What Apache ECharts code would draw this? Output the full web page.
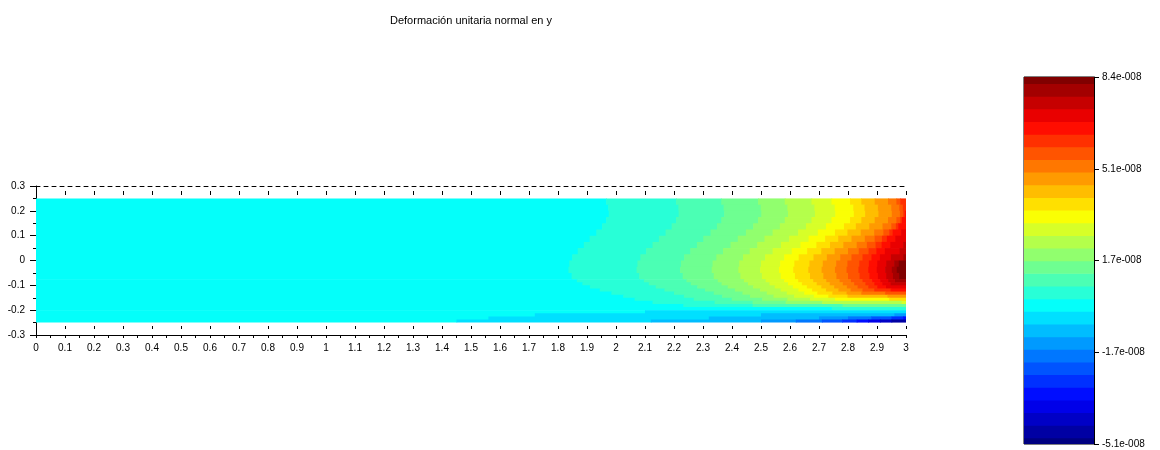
<!DOCTYPE html>
<html><head><meta charset="utf-8">
<script src="https://cdn.jsdelivr.net/npm/echarts@6/dist/echarts.min.js"></script>
<style>html,body{margin:0;padding:0;background:#fff}#c{width:1160px;height:450px}</style>
</head><body><div id="c"></div>
<script>
const titleText = 'Deformación unitaria normal en y';
const xMin = 0, xMax = 3, xStep = 0.1;
const yMin = -0.3, yMax = 0.3, yStep = 0.1;
// Scilab jetcolormap(30): contour band colours, lowest to highest
const levelColors = ['#000080','#0000A3','#0000C6','#0000E9','#000DFF','#0030FF','#0054FF','#0077FF','#009AFF','#00BDFF',
  '#00E0FF','#04FFFA','#28FFD7','#4BFFB4','#6EFF91','#91FF6E','#B4FF4B','#D7FF28','#FAFF04','#FFE000',
  '#FFBD00','#FF9A00','#FF7700','#FF5400','#FF3000','#FF0D00','#E90000','#C60000','#A30000','#800000'];
const colorbarTickLabels = ['-5.1e-008','-1.7e-008','1.7e-008','5.1e-008','8.4e-008'];
// row boundaries (y) of the sampled strain field
const yEdges = [0.25,0.225,0.2,0.175,0.15,0.125,0.1,0.075,0.05,0.025,0,-0.025,-0.05,-0.075,-0.0875,-0.1,-0.1125,-0.125,-0.1375,-0.15,-0.1625,-0.175,-0.1875,-0.2,-0.2125,-0.225,-0.2375,-0.25];
// each row: pairs (x where band starts, band level index)
const fieldRows = [
 [0,11, 1.966,12, 2.207,13, 2.363,14, 2.490,15, 2.582,16, 2.674,17, 2.743,18, 2.807,19, 2.846,20, 2.892,21, 2.938,22, 2.967,23, 2.980,24],
 [0,11, 1.973,12, 2.215,13, 2.371,14, 2.499,15, 2.591,16, 2.684,17, 2.754,18, 2.818,19, 2.857,20, 2.903,21, 2.949,22, 2.977,23, 2.989,24],
 [0,11, 1.975,12, 2.216,13, 2.373,14, 2.501,15, 2.593,16, 2.686,17, 2.756,18, 2.820,19, 2.859,20, 2.905,21, 2.951,22, 2.979,23, 2.990,24, 2.996,25],
 [0,11, 1.966,12, 2.207,13, 2.363,14, 2.490,15, 2.582,16, 2.674,17, 2.743,18, 2.807,19, 2.846,20, 2.892,21, 2.938,22, 2.967,23, 2.980,24, 2.986,25],
 [0,11, 1.952,12, 2.192,13, 2.348,14, 2.473,15, 2.565,16, 2.655,17, 2.724,18, 2.786,19, 2.827,20, 2.873,21, 2.919,22, 2.949,23, 2.965,24, 2.973,25],
 [0,11, 1.932,12, 2.171,13, 2.326,14, 2.448,15, 2.540,16, 2.628,17, 2.696,18, 2.755,19, 2.798,20, 2.844,21, 2.890,22, 2.922,23, 2.942,24, 2.954,25, 2.983,26],
 [0,11, 1.909,12, 2.148,13, 2.301,14, 2.420,15, 2.512,16, 2.597,17, 2.664,18, 2.721,19, 2.766,20, 2.812,21, 2.858,22, 2.892,23, 2.917,24, 2.934,25, 2.963,26],
 [0,11, 1.889,12, 2.126,13, 2.279,14, 2.395,15, 2.487,16, 2.569,17, 2.636,18, 2.691,19, 2.738,20, 2.784,21, 2.830,22, 2.865,23, 2.895,24, 2.916,25, 2.946,26, 2.990,27],
 [0,11, 1.868,12, 2.104,13, 2.256,14, 2.369,15, 2.461,16, 2.540,17, 2.606,18, 2.659,19, 2.708,20, 2.754,21, 2.800,22, 2.837,23, 2.871,24, 2.898,25, 2.927,26, 2.978,27],
 [0,11, 1.849,12, 2.084,13, 2.235,14, 2.346,15, 2.438,16, 2.514,17, 2.580,18, 2.630,19, 2.681,20, 2.727,21, 2.773,22, 2.812,23, 2.850,24, 2.881,25, 2.910,26, 2.948,27, 2.991,28],
 [0,11, 1.839,12, 2.074,13, 2.224,14, 2.333,15, 2.425,16, 2.500,17, 2.566,18, 2.615,19, 2.667,20, 2.713,21, 2.759,22, 2.798,23, 2.839,24, 2.872,25, 2.901,26, 2.932,27, 2.959,28, 2.975,29],
 [0,11, 1.836,12, 2.071,13, 2.221,14, 2.330,15, 2.422,16, 2.497,17, 2.562,18, 2.611,19, 2.663,20, 2.709,21, 2.755,22, 2.795,23, 2.836,24, 2.870,25, 2.899,26, 2.928,27, 2.951,28, 2.968,29],
 [0,11, 1.847,12, 2.080,13, 2.230,14, 2.337,15, 2.429,16, 2.503,17, 2.568,18, 2.617,19, 2.669,20, 2.715,21, 2.760,22, 2.800,23, 2.840,24, 2.874,25, 2.903,26, 2.932,27, 2.955,28, 2.976,29],
 [0,11, 1.865,12, 2.096,13, 2.243,14, 2.351,15, 2.441,16, 2.516,17, 2.580,18, 2.628,19, 2.680,20, 2.725,21, 2.771,22, 2.810,23, 2.850,24, 2.883,25, 2.911,26, 2.939,27, 2.962,28],
 [0,11, 1.884,12, 2.113,13, 2.258,14, 2.364,15, 2.455,16, 2.529,17, 2.593,18, 2.641,19, 2.692,20, 2.737,21, 2.782,22, 2.821,23, 2.860,24, 2.891,25, 2.918,26, 2.947,27],
 [0,11, 1.910,12, 2.137,13, 2.280,14, 2.385,15, 2.473,16, 2.547,17, 2.610,18, 2.658,19, 2.708,20, 2.752,21, 2.796,22, 2.833,23, 2.870,24, 2.901,25, 2.931,26],
 [0,11, 1.944,12, 2.167,13, 2.307,14, 2.410,15, 2.497,16, 2.568,17, 2.629,18, 2.676,19, 2.724,20, 2.767,21, 2.809,22, 2.850,23, 2.890,24, 2.947,25],
 [0,11, 1.984,12, 2.200,13, 2.337,14, 2.436,15, 2.520,16, 2.589,17, 2.649,18, 2.694,19, 2.746,20, 2.795,21, 2.846,22, 2.928,23],
 [0,11, 2.025,12, 2.234,13, 2.366,14, 2.462,15, 2.543,16, 2.614,17, 2.682,18, 2.732,19, 2.798,20, 2.936,21],
 [0,11, 2.064,12, 2.268,13, 2.399,14, 2.504,15, 2.591,16, 2.669,17, 2.755,18, 2.942,19],
 [0,11, 2.126,12, 2.340,13, 2.471,14, 2.585,15, 2.711,16, 2.985,17],
 [0,11, 2.232,12, 2.471,13, 2.781,14],
 [0,11, 2.744,12],
 [0,11, 2.1,10],
 [0,11, 1.72,10, 2.5,9, 2.96,8],
 [0,11, 1.56,10, 2.32,9, 2.7,8, 2.8,7, 2.88,6, 2.95,5, 2.99,4],
 [0,11, 1.45,10, 2.12,9, 2.5,8, 2.62,7, 2.71,6, 2.78,5, 2.83,4, 2.87,3, 2.91,2, 2.95,1]
];

const FONT = '"Liberation Sans", Arial, Helvetica, sans-serif';
const yBottom = yEdges[yEdges.length - 1];
const cells = [];
fieldRows.forEach((row, r) => {
  for (let i = 0; i < row.length; i += 2) {
    const x1 = i + 2 < row.length ? row[i + 2] : xMax;
    cells.push([row[i], x1, yEdges[r + 1], yEdges[r], row[i + 1]]);
  }
});
const nLev = levelColors.length;
const cbCells = levelColors.map((c, i) => [Math.max(0, i - 0.5), Math.min(nLev - 1, i + 0.5), i]);
const cbInterval = (nLev - 1) / (colorbarTickLabels.length - 1);

const black = '#000';
function baseX(extra) {
  return Object.assign({gridIndex: 0, type: 'value', min: xMin, max: xMax, interval: xStep,
    splitLine: {show: false}, axisLabel: {show: false}, axisTick: {show: false},
    axisLine: {show: false, onZero: false, lineStyle: {color: black, width: 1}}}, extra);
}

const chart = echarts.init(document.getElementById('c'), null, {renderer: 'canvas'});
chart.setOption({
  animation: false,
  backgroundColor: '#fff',
  title: {text: titleText, left: 466, top: 10, textAlign: 'center',
    textStyle: {fontSize: 11, fontWeight: 'normal', color: black, fontFamily: FONT}},
  grid: [
    {left: 36, top: 186, width: 870, height: 149, show: false},
    {left: 1024, top: 77, width: 70, height: 367, show: true, borderColor: black, borderWidth: 1, backgroundColor: 'transparent'}
  ],
  xAxis: [
    baseX({position: 'bottom',
      axisLine: {show: true, onZero: false, lineStyle: {color: black, width: 1}},
      axisTick: {show: true, length: 3, lineStyle: {color: black}},
      minorTick: {show: true, splitNumber: 2, length: 3, lineStyle: {color: black}},
      axisLabel: {show: true, color: black, fontSize: 10, fontFamily: FONT, margin: 8}}),
    baseX({position: 'bottom', offset: -6,
      axisTick: {show: true, inside: true, length: 3, lineStyle: {color: black}}}),
    baseX({position: 'top',
      axisLine: {show: true, onZero: false, lineStyle: {color: black, width: 1, type: [4, 4]}}}),
    baseX({position: 'top', offset: -5,
      axisTick: {show: true, inside: true, length: 4, lineStyle: {color: black}}}),
    {gridIndex: 1, type: 'value', min: 0, max: 1, show: false}
  ],
  yAxis: [
    {gridIndex: 0, type: 'value', min: yMin, max: yMax, interval: yStep, position: 'left',
      splitLine: {show: false},
      axisLine: {show: true, onZero: false, lineStyle: {color: black, width: 1}},
      axisTick: {show: true, length: 6, lineStyle: {color: black}},
      minorTick: {show: true, splitNumber: 2, length: 3, lineStyle: {color: black}},
      axisLabel: {color: black, fontSize: 10, fontFamily: FONT, margin: 11}},
    {gridIndex: 1, type: 'value', min: 0, max: nLev - 1, interval: cbInterval, position: 'right',
      splitLine: {show: false},
      axisLine: {show: true, onZero: false, lineStyle: {color: black, width: 1}},
      axisTick: {show: true, length: 5, lineStyle: {color: black}},
      axisLabel: {color: black, fontSize: 10, fontFamily: FONT, margin: 8,
        formatter: v => colorbarTickLabels[Math.round(v / cbInterval)]}}
  ],
  series: [
    {type: 'custom', xAxisIndex: 0, yAxisIndex: 0, silent: true, data: cells,
      encode: {x: [0, 1], y: [2, 3]},
      renderItem: (params, api) => {
        const x0 = api.value(0), x1 = api.value(1), y0 = api.value(2), y1 = api.value(3);
        const p0 = api.coord([x0, y1]);
        const p1 = api.coord([x1, y0]);
        const ow = x1 < xMax ? 0.7 : 0, oh = y0 > yBottom ? 0.7 : 0;
        return {type: 'rect', shape: {x: p0[0], y: p0[1], width: p1[0] - p0[0] + ow, height: p1[1] - p0[1] + oh},
          style: {fill: levelColors[api.value(4)]}};
      }},
    {type: 'custom', xAxisIndex: 4, yAxisIndex: 1, silent: true, data: cbCells,
      encode: {y: [0, 1]},
      renderItem: (params, api) => {
        const lo = api.value(0), hi = api.value(1);
        const p0 = api.coord([0, hi]);
        const p1 = api.coord([1, lo]);
        return {type: 'rect', shape: {x: p0[0], y: p0[1], width: p1[0] - p0[0], height: p1[1] - p0[1] + (lo > 0 ? 0.7 : 0)},
          style: {fill: levelColors[api.value(2)]}};
      }}
  ]
});
</script>
</body></html>
